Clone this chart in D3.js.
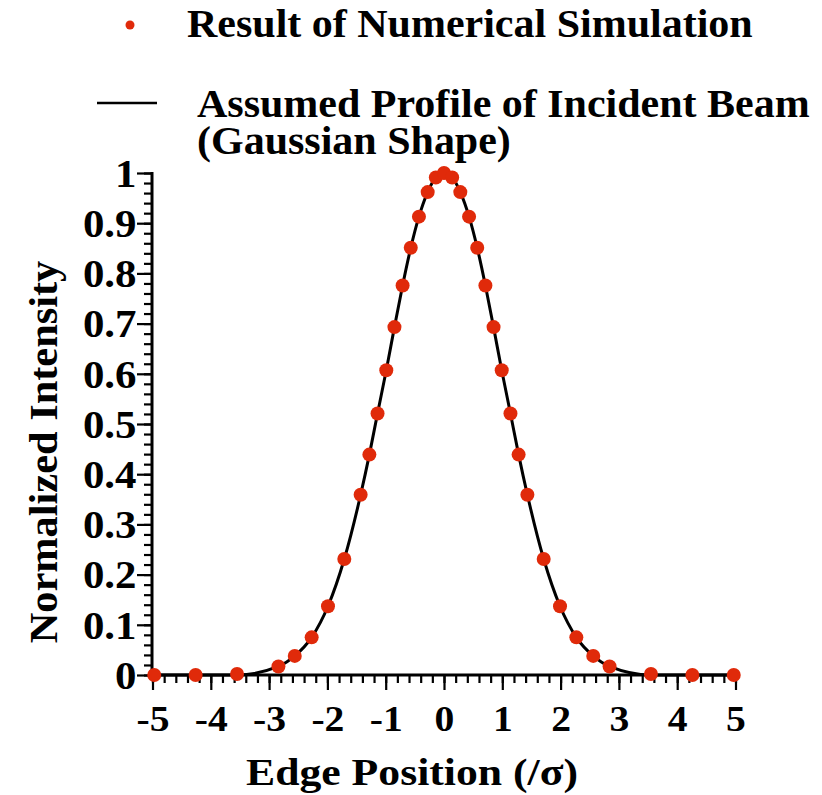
<!DOCTYPE html>
<html><head><meta charset="utf-8">
<script src="https://cdn.jsdelivr.net/npm/d3@7"></script>
<style>body{margin:0;background:#fff}svg{display:block}text{font-family:"Liberation Serif","DejaVu Serif",serif;font-weight:bold;fill:#000}</style>
</head><body>
<svg id="c" width="822" height="795"></svg>
<script>
// Data
const xPos = [-4.97,-4.26,-3.55,-2.84,-2.56,-2.27,-1.99,-1.71,-1.43,-1.28,-1.14,-0.99,-0.85,-0.71,-0.57,-0.43,-0.28,-0.14,0,
              0.14,0.28,0.43,0.57,0.71,0.85,0.99,1.14,1.28,1.43,1.71,1.99,2.27,2.56,2.84,3.55,4.26,4.97];
const simValues = [0,0,0.002,0.017,0.038,0.075,0.137,0.231,0.359,0.439,0.521,0.607,0.693,0.776,0.851,0.913,0.962,0.991,1.0,
                   0.991,0.962,0.913,0.851,0.776,0.693,0.607,0.521,0.439,0.359,0.231,0.137,0.075,0.038,0.017,0.002,0,0];
const profileValues = [0,0,0,0.017,0.038,0.075,0.137,0.231,0.359,0.439,0.521,0.607,0.693,0.776,0.851,0.913,0.962,0.991,1.0,
                   0.991,0.962,0.913,0.851,0.776,0.693,0.607,0.521,0.439,0.359,0.231,0.137,0.075,0.038,0.017,0,0,0];
const xTicks = [-5,-4,-3,-2,-1,0,1,2,3,4,5];
const yTicks = [0,0.1,0.2,0.3,0.4,0.5,0.6,0.7,0.8,0.9,1];
const legendLabels = ["Result of Numerical Simulation","Assumed Profile of Incident Beam","(Gaussian Shape)"];
const xTitle = "Edge Position (/σ)";
const yTitle = "Normalized Intensity";

const svg = d3.select("#c");
const x = d3.scaleLinear().domain([-5,5]).range([152.5,735.5]);
const y = d3.scaleLinear().domain([0,1]).range([675,173]);

// minor ticks
const xMinor = d3.range(-5,5.001,0.2).map(v=>+v.toFixed(2));
const yMinor = d3.range(0,1.0001,0.02).map(v=>+v.toFixed(2));

const xAxisMinor = d3.axisBottom(x).tickValues(xMinor).tickSize(8).tickFormat("");
const xAxisMajor = d3.axisBottom(x).tickValues(xTicks).tickSize(15).tickFormat(d=>d);
const yAxisMinor = d3.axisLeft(y).tickValues(yMinor).tickSize(8).tickFormat("");
const yAxisMajor = d3.axisLeft(y).tickValues(yTicks).tickSize(15).tickFormat(d=>d);

function style(g){
  g.select(".domain").remove();
  g.selectAll(".tick line").attr("stroke","#000").attr("stroke-width",2.2);
}
svg.append("g").attr("transform","translate(0,675)").call(xAxisMinor).call(style);
const gx = svg.append("g").attr("transform","translate(0,675)").call(xAxisMajor).call(style);
gx.selectAll("text").attr("font-size",36).attr("font-family","Liberation Serif").attr("font-weight","bold")
  .attr("y",56.5).attr("dy",null).attr("transform","scale(1.1,1)");
svg.append("g").attr("transform","translate(152,0)").call(yAxisMinor).call(style);
const gy = svg.append("g").attr("transform","translate(152,0)").call(yAxisMajor).call(style);
gy.selectAll("text").attr("font-size",39).attr("font-family","Liberation Serif").attr("font-weight","bold")
  .attr("x",-15.5/1.1).attr("dy","0.34em").attr("transform","scale(1.1,1)");

// axis lines
svg.append("line").attr("x1",x(-5)-1.5).attr("x2",x(5)+1).attr("y1",y(0)).attr("y2",y(0)).attr("stroke","#000").attr("stroke-width",3);
svg.append("line").attr("x1",152).attr("x2",152).attr("y1",y(1)-1).attr("y2",y(0)+1.5).attr("stroke","#000").attr("stroke-width",3);

// profile line
const line = d3.line().x((d,i)=>x(xPos[i])).y(d=>y(d)).curve(d3.curveMonotoneX);
svg.append("path").datum(profileValues).attr("d",line).attr("fill","none").attr("stroke","#000").attr("stroke-width",3);

// simulation points
svg.append("g").selectAll("circle").data(simValues).join("circle")
  .attr("cx",(d,i)=>x(xPos[i])).attr("cy",d=>y(d)).attr("r",7).attr("fill","#e02a0a");

// legend
svg.append("circle").attr("cx",130).attr("cy",25).attr("r",4.5).attr("fill","#e02a0a");
svg.append("text").attr("transform","translate(187,37) scale(1.05,1)").attr("font-size",40).text(legendLabels[0]);
svg.append("line").attr("x1",97).attr("x2",157).attr("y1",103).attr("y2",103).attr("stroke","#000").attr("stroke-width",2.5);
svg.append("text").attr("transform","translate(197,117) scale(1.05,1)").attr("font-size",40).text(legendLabels[1]);
svg.append("text").attr("transform","translate(197,154) scale(1.05,1)").attr("font-size",40).text(legendLabels[2]);

// titles
svg.append("text").attr("transform","translate(412,785) scale(1.15,1)").attr("text-anchor","middle").attr("font-size",38).text(xTitle);
svg.append("text").attr("transform","translate(57,452) rotate(-90) scale(1.06,1)").attr("text-anchor","middle").attr("font-size",40).text(yTitle);
</script>
</body></html>
